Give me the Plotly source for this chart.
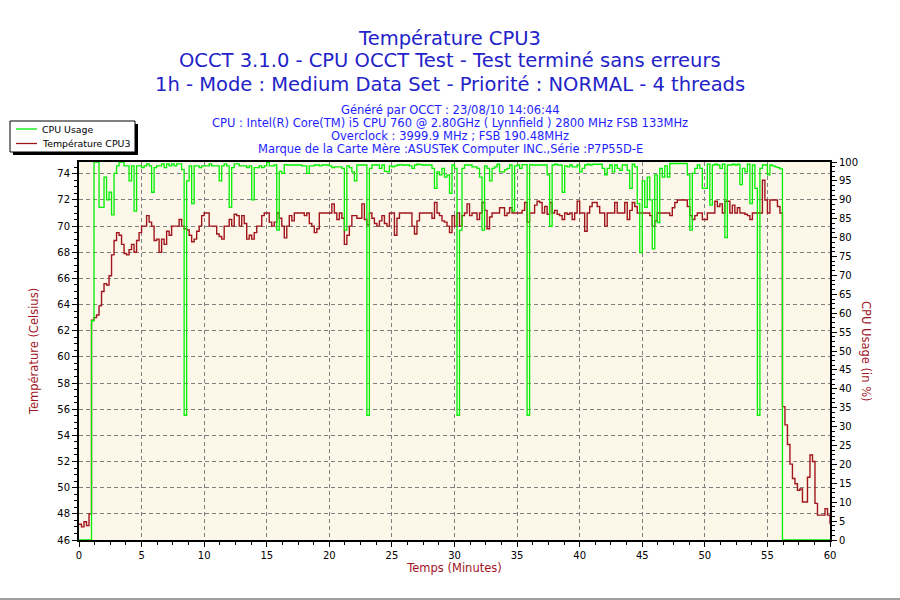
import plotly.graph_objects as go
import numpy as np

# ---- data ----
step_minutes = 0.2
temperature_c = [
    47.2, 47.0, 47.4, 47.1, 48.0, 62.8, 63.0, 63.2, 63.9, 65.0,
    65.6, 65.5, 66.2, 67.8, 68.9, 69.5, 69.3, 68.6, 67.9, 67.8,
    68.2, 68.6, 68.0, 68.9, 69.5, 70.0, 70.0, 70.8, 70.3, 70.0,
    68.9, 69.0, 68.0, 69.0, 68.6, 69.6, 69.3, 70.0, 70.0, 70.0,
    70.5, 70.0, 69.8, 69.7, 69.3, 68.8, 69.0, 69.6, 70.0, 70.8,
    71.0, 71.0, 70.0, 70.0, 70.0, 69.4, 69.2, 69.0, 70.0, 70.0,
    70.5, 70.0, 70.9, 70.8, 70.0, 70.8, 70.2, 69.0, 69.3, 69.0,
    69.5, 70.0, 70.0, 70.8, 71.0, 71.0, 70.3, 70.0, 70.3, 71.0,
    70.6, 70.0, 69.1, 70.0, 70.8, 70.4, 71.0, 71.0, 71.0, 71.0,
    70.8, 71.0, 70.2, 70.0, 69.5, 69.8, 71.0, 71.0, 71.0, 71.0,
    71.0, 71.7, 71.0, 70.5, 71.0, 70.6, 68.6, 69.3, 70.0, 70.8,
    70.8, 70.6, 70.6, 71.7, 70.5, 70.1, 71.0, 70.6, 70.2, 70.0,
    70.4, 70.8, 70.2, 70.0, 71.0, 71.0, 69.3, 70.6, 71.0, 71.0,
    71.0, 71.0, 71.0, 70.0, 69.4, 70.4, 71.0, 71.0, 71.0, 71.0,
    71.0, 70.6, 71.8, 71.0, 70.8, 70.4, 70.3, 70.0, 69.5, 70.8,
    70.0, 71.0, 70.0, 70.8, 71.0, 71.7, 70.8, 71.0, 71.0, 70.5,
    71.0, 71.8, 71.2, 69.8, 70.7, 71.0, 71.0, 71.0, 71.4, 71.4,
    70.8, 71.0, 71.4, 71.0, 71.0, 71.0, 71.0, 71.2, 71.8, 70.3,
    71.0, 71.0, 71.6, 71.9, 71.8, 71.0, 71.5, 70.9, 71.8, 71.0,
    71.2, 70.9, 70.8, 70.5, 71.0, 70.9, 71.0, 70.5, 71.0, 71.9,
    71.0, 71.0, 69.6, 71.0, 71.5, 71.8, 71.8, 71.5, 71.0, 71.0,
    70.0, 71.0, 71.0, 71.0, 71.8, 71.0, 71.0, 71.0, 71.8, 70.5,
    71.2, 71.8, 71.5, 71.0, 71.0, 71.0, 71.0, 71.0, 70.8, 70.0,
    70.4, 71.0, 71.0, 71.0, 71.0, 71.0, 70.8, 71.4, 71.8, 72.0,
    72.0, 72.0, 72.0, 71.5, 70.8, 70.5, 70.8, 71.0, 71.0, 70.5,
    70.5, 71.0, 71.0, 71.0, 71.9, 71.5, 71.7, 71.0, 71.9, 71.9,
    71.0, 71.6, 71.0, 71.4, 71.0, 71.0, 70.9, 70.8, 70.5, 71.0,
    71.0, 71.0, 71.0, 73.5, 72.0, 71.0, 72.0, 72.0, 72.0, 71.5,
    71.0, 56.2, 54.8, 53.3, 51.8, 50.7, 50.3, 49.8, 49.9, 48.9,
    48.9, 50.8, 52.5, 52.0, 48.8, 47.9, 47.9, 47.9, 48.4, 47.9,
    47.2,
]
cpu_usage_pct = [
    0, 0, 0, 0, 0, 58, 100, 100, 88, 88,
    96, 90, 92, 86, 97, 99, 100, 100, 99, 99,
    95, 99, 87, 99, 99, 98.5, 99, 99.5, 99, 92,
    98.5, 99, 99, 99.5, 98.5, 99.5, 99, 99.5, 99, 99.5,
    99.5, 98, 33, 95, 99, 89, 99, 99, 98.5, 99,
    99, 99, 99.5, 99, 99, 99, 95, 99, 99.5, 99,
    88, 98.5, 99.5, 99.5, 99, 99, 99, 98.5, 99, 90,
    98.5, 98.5, 99, 98.5, 99, 100, 99, 99, 99.2, 82,
    97.5, 97, 99.3, 99.2, 99.2, 99.2, 99.2, 99.2, 99.2, 99,
    99, 97, 99, 99, 99.2, 99.2, 99, 99.2, 99.2, 99.2,
    99, 98.5, 98.7, 98.7, 98.7, 98.3, 82, 99, 98.5, 97.4,
    95, 99.2, 99.2, 99.2, 99.2, 33, 98.3, 99.2, 99.2, 99.2,
    98.3, 99.2, 97.5, 97.4, 99, 98.7, 99, 99.2, 99.3, 99.2,
    99.2, 99.2, 99, 98.3, 99.2, 99.4, 99.3, 99.2, 99.2, 99.2,
    99.2, 98.3, 93, 97.4, 96.6, 98.3, 96, 96.6, 91.7, 99.2,
    98.3, 33, 82, 98.3, 99.2, 99.2, 99.2, 98.7, 98.7, 98.3,
    96, 82, 99, 98.3, 95, 98.3, 98.7, 99.4, 97.4, 97.4,
    98, 98.3, 99.2, 87, 99, 99.2, 98.3, 99.3, 99.3, 33,
    99.3, 99.2, 99.2, 99.2, 99.2, 99.2, 99.2, 96.6, 83, 99.2,
    99.4, 99.2, 99.2, 92, 99, 98.7, 99.2, 98.7, 98.7, 99.2,
    97.4, 98.3, 99.2, 99.4, 99.2, 99.4, 99.4, 99.4, 99.4, 98.3,
    96.6, 98.3, 99.2, 97.4, 99.2, 98.3, 97.8, 99.2, 99.2, 97.8,
    93, 99.4, 98.7, 89, 76, 95, 88, 96, 90, 77,
    96.6, 84, 98.3, 96, 99, 96, 99.6, 99.6, 99.6, 99.6,
    99.6, 99.6, 99.6, 96.6, 82, 97, 98.3, 99.2, 98.3, 93,
    93, 99.4, 88.6, 99.2, 99.4, 99.2, 98.3, 99.4, 80, 99.2,
    99.2, 99.4, 99.2, 99.4, 94, 98.3, 97.4, 99.4, 89, 99.2,
    93, 33, 98.3, 99.2, 99.2, 96.6, 99.2, 99, 98.7, 98.5,
    98.2, 0, 0, 0, 0, 0, 0, 0, 0, 0,
    0, 0, 0, 0, 0, 0, 0, 0, 0, 0,
    0,
]
time_min = np.arange(len(temperature_c)) * step_minutes

x_ticks = [0, 5, 10, 15, 20, 25, 30, 35, 40, 45, 50, 55, 60]
temp_ticks = [46, 48, 50, 52, 54, 56, 58, 60, 62, 64, 66, 68, 70, 72, 74]
cpu_ticks = list(range(0, 101, 5))

title_lines = [
    "Température CPU3",
    "OCCT 3.1.0 - CPU OCCT Test - Test terminé sans erreurs",
    "1h - Mode : Medium Data Set - Priorité : NORMAL - 4 threads",
]
info_lines = [
    "Généré par OCCT : 23/08/10 14:06:44",
    "CPU : Intel(R) Core(TM) i5 CPU 760 @ 2.80GHz ( Lynnfield ) 2800 MHz FSB 133MHz",
    "Overclock : 3999.9 MHz ; FSB 190.48MHz",
    "Marque de la Carte Mère :ASUSTeK Computer INC.,Série :P7P55D-E",
]
series_names = ["CPU Usage", "Température CPU3"]

FONT = "DejaVu Sans"
RED = "#a0161c"
GREEN = "#00f000"
AXIS_TITLE = "#a0141e"
TITLE_BLUE = "#2323c8"
INFO_BLUE = "#1e1eff"

# plot area in pixels
PL, PR, PT, PB = 79, 830, 162, 540


def px(x):
    return (x - PL) / (PR - PL)


def py(y):
    return (PB - y) / (PB - PT)


fig = go.Figure()
fig.add_trace(go.Scatter(
    x=time_min, y=temperature_c, name=series_names[1], mode="lines",
    line=dict(color=RED, width=1.4, shape="hv"), yaxis="y",
))
fig.add_trace(go.Scatter(
    x=time_min, y=cpu_usage_pct, name=series_names[0], mode="lines",
    line=dict(color=GREEN, width=1.3, shape="hv"), yaxis="y2",
))

tickfont = dict(family=FONT, size=10, color="#000000")
grid = dict(showgrid=True, gridcolor="#808080", gridwidth=1, griddash="4px,3px")
axis_title_font = dict(family=FONT, size=11.5, color=AXIS_TITLE)

fig.update_layout(
    template="none",
    width=900, height=600,
    margin=dict(l=PL, r=900 - PR, t=PT, b=600 - PB, autoexpand=False),
    paper_bgcolor="#ffffff",
    plot_bgcolor="#fdf7e9",
    font=dict(family=FONT, size=10, color="#000000"),
    showlegend=False,
    title=dict(
        text=title_lines[0],
        font=dict(family=FONT, size=19.5, color=TITLE_BLUE),
        x=0.5, xref="container", xanchor="center",
        y=1 - 38 / 600, yref="container", yanchor="middle",
    ),
    xaxis=dict(
        range=[0, 60], tickvals=x_ticks, ticks="outside", ticklen=5, tickwidth=1,
        tickcolor="#000000", tickfont=tickfont,
        minor=dict(dtick=1.25, ticks="outside", ticklen=3, tickcolor="#000000", showgrid=False),
        showline=True, linecolor="#000000", linewidth=2, mirror=True,
        zeroline=False, automargin=False,
        title=dict(text="Temps (Minutes)", font=axis_title_font, standoff=4),
        **grid,
    ),
    yaxis=dict(
        range=[46, 74.9], tickvals=temp_ticks, ticks="outside", ticklen=5, tickwidth=1,
        tickcolor="#000000", tickfont=tickfont,
        minor=dict(dtick=0.5, ticks="outside", ticklen=3, tickcolor="#000000", showgrid=False),
        showline=True, linecolor="#000000", linewidth=2,
        zeroline=False, automargin=False,
        title=dict(text="Température (Celsius)", font=axis_title_font, standoff=16),
        **grid,
    ),
    yaxis2=dict(
        range=[0, 100], tickvals=cpu_ticks, ticks="outside", ticklen=5, tickwidth=1,
        tickcolor="#000000", tickfont=tickfont, overlaying="y", side="right",
        minor=dict(dtick=1.25, ticks="outside", ticklen=3, tickcolor="#000000", showgrid=False),
        showline=True, linecolor="#000000", linewidth=2,
        showgrid=False, zeroline=False, automargin=False,
    ),
)

# subtitle lines of the title
for text, yc in zip(title_lines[1:], [60, 84]):
    fig.add_annotation(
        text=text, showarrow=False, xref="paper", yref="paper",
        x=px(450), y=py(yc), xanchor="center", yanchor="middle",
        font=dict(family=FONT, size=19.5, color=TITLE_BLUE),
    )

# information block under the title
for text, yc in zip(info_lines, [110, 123, 136, 149]):
    fig.add_annotation(
        text=text, showarrow=False, xref="paper", yref="paper",
        x=px(450), y=py(yc), xanchor="center", yanchor="middle",
        font=dict(family=FONT, size=11.5, color=INFO_BLUE),
    )

# right axis title (reads top to bottom)
fig.add_annotation(
    text="CPU Usage (in %)", showarrow=False, textangle=90,
    xref="paper", yref="paper", x=px(866), y=0.5,
    xanchor="center", yanchor="middle", font=axis_title_font,
)

# legend box with drop shadow
fig.add_shape(type="rect", xref="paper", yref="paper",
              x0=px(13), x1=px(138), y0=py(155), y1=py(124),
              fillcolor="#000000", line=dict(width=0))
fig.add_shape(type="rect", xref="paper", yref="paper",
              x0=px(10), x1=px(135), y0=py(152), y1=py(121),
              fillcolor="#ffffff", line=dict(color="#000000", width=1))
for name, color, yc in zip(series_names, [GREEN, RED], [129, 143.5]):
    fig.add_shape(type="line", xref="paper", yref="paper",
                  x0=px(16), x1=px(37), y0=py(yc), y1=py(yc),
                  line=dict(color=color, width=1.3))
    fig.add_annotation(
        text=name, showarrow=False, xref="paper", yref="paper",
        x=px(40), y=py(yc), xanchor="left", yanchor="middle",
        font=dict(family=FONT, size=9.4, color="#000000"),
    )

# frame line at the bottom of the image
fig.add_shape(
    type="line", xref="paper", yref="paper",
    x0=px(0), x1=px(900), y0=py(599), y1=py(599),
    line=dict(color="#a0a0a0", width=2),
)

fig.write_html(
    "out.html",
    config={"displayModeBar": False},
    post_script="document.body.style.margin='0px';",
)
